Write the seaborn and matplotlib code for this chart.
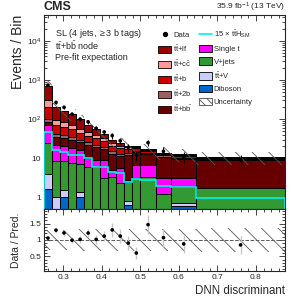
import numpy as np
import pandas as pd
import matplotlib
matplotlib.use('Agg')
import matplotlib.pyplot as plt
import matplotlib.patches as mpatches
from matplotlib.lines import Line2D
from matplotlib.ticker import LogLocator, FuncFormatter, MultipleLocator, NullFormatter, FixedLocator
import seaborn as sns

sns.set_style('ticks')
plt.rcParams['font.family'] = ['Liberation Sans', 'DejaVu Sans']
plt.rcParams['mathtext.fontset'] = 'custom'
plt.rcParams['mathtext.rm'] = 'Liberation Sans'
plt.rcParams['mathtext.it'] = 'Liberation Sans:italic'
plt.rcParams['mathtext.bf'] = 'Liberation Sans:bold'
plt.rcParams['hatch.linewidth'] = 0.6

# ── data ─────────────────────────────────────────────────────────────────────
bin_edges = [0.25, 0.2708, 0.2917, 0.3125, 0.3333, 0.3542, 0.375, 0.3958,
             0.4167, 0.4375, 0.4583, 0.4792, 0.5, 0.54, 0.58, 0.645, 0.875]

ttlf    = [390, 110, 83, 63, 41, 24, 17, 10, 5, 4.5, 2, 1.0, 0.7, 0.4, 0.6, 0.3]
ttcc    = [105, 25, 20, 16, 12, 9, 8, 5, 3, 2.5, 2, 1.2, 0.8, 0.6, 0.6, 0.3]
ttb     = [105, 28, 23, 21, 15, 11, 10, 7.5, 6, 5, 3.5, 2.5, 1.5, 1.2, 1.1, 0.6]
tt2b    = [16, 7, 6, 5, 4, 4, 3, 2.5, 2, 1.5, 1.6, 1.0, 1.0, 0.8, 0.7, 0.5]
ttbb    = [14, 13.5, 12, 12.2, 10, 12, 10.1, 8.1, 8.0, 6.0, 9.1, 7.7, 6.4, 7.9, 6.4, 7.15]
singlet = [45, 13, 12.5, 10.3, 9.0, 4.0, 3.0, 5.8, 1.7, 3.2, 0.3, 3.5, 3.2, 1.9, 1.3, 0.05]
vjets   = [21, 7.5, 7.0, 7.1, 5.6, 5.6, 5.5, 2.8, 3.0, 2.1, 1.7, 2.9, 3.2, 1.0, 1.1, 1.5]
ttv     = [2.4, 0.7, 0.55, 0.2, 0.4, 0.2, 0.2, 0.2, 0.2, 0.1, 0.15, 0.1, 0.1, 0.1, 0.1, 0.1]
diboson = [1.6, 0.3, 1.0, 0.2, 1.0, 0.2, 0.2, 0.1, 0.1, 0.1, 0.65, 0.1, 0.1, 0.1, 0.6, 0.1]

data_counts = [742, 267, 201, 134, 100, 85, 58, 47, 38, 28, 19, 12, 25, 15, 11, 9]
tth_x15 = [46, 16, 14.5, 11.9, 11.9, 10, 5.9, 5.8, 4.5, 4.2, 2.5, 3.0, 2.7, 1.9, 1.8, 0.94]
unc_rel = [0.32, 0.32, 0.32, 0.32, 0.33, 0.33, 0.33, 0.33, 0.34, 0.34,
           0.34, 0.34, 0.35, 0.35, 0.35, 0.36]

# ── styles ───────────────────────────────────────────────────────────────────
proc_names = ['ttlf', 'ttcc', 'ttb', 'tt2b', 'ttbb', 'singlet', 'vjets', 'ttv', 'diboson']
proc_vals = [ttlf, ttcc, ttb, tt2b, ttbb, singlet, vjets, ttv, diboson]
colors = {
    'ttlf': '#990000', 'ttcc': '#ff9999', 'ttb': '#cc0000', 'tt2b': '#9a6161',
    'ttbb': '#660000', 'singlet': '#ff00ff', 'vjets': '#339933',
    'ttv': '#ccccff', 'diboson': '#0066cc',
}
labels = {
    'ttlf': r'$\mathrm{t\bar{t}}$+lf', 'ttcc': r'$\mathrm{t\bar{t}}$+$\mathrm{c\bar{c}}$',
    'ttb': r'$\mathrm{t\bar{t}}$+b', 'tt2b': r'$\mathrm{t\bar{t}}$+2b',
    'ttbb': r'$\mathrm{t\bar{t}}$+$\mathrm{b\bar{b}}$', 'singlet': 'Single t',
    'vjets': 'V+jets', 'ttv': r'$\mathrm{t\bar{t}}$+V', 'diboson': 'Diboson',
}
TTH_COLOR = '#00f0f0'

edges = np.array(bin_edges)
centers = 0.5 * (edges[:-1] + edges[1:])
rows = []
for name, vals in zip(proc_names, proc_vals):
    for c, v in zip(centers, vals):
        rows.append({'x': c, 'w': v, 'proc': name})
df = pd.DataFrame(rows)

total = np.sum(np.array(proc_vals), axis=0)
data = np.array(data_counts, dtype=float)
ratio = data / total
unc = np.array(unc_rel)

# ── figure ───────────────────────────────────────────────────────────────────
fig = plt.figure(figsize=(2.91, 3.0), dpi=100)
ax = fig.add_axes([0.151, 0.303, 0.828, 0.647])
axr = fig.add_axes([0.151, 0.097, 0.828, 0.206], sharex=ax)

sns.histplot(data=df, x='x', weights='w', hue='proc', hue_order=proc_names,
             bins=list(bin_edges), multiple='stack', palette=colors, alpha=1,
             edgecolor='black', linewidth=0.7, legend=False, ax=ax)
ax.set_yscale('log')

# 15 x ttH line
ax.stairs(tth_x15, edges, color=TTH_COLOR, lw=1.2, zorder=4)

# uncertainty band
ax.fill_between(edges, np.append(total * (1 - unc), total[-1] * (1 - unc[-1])),
                np.append(total * (1 + unc), total[-1] * (1 + unc[-1])),
                step='post', facecolor='none', edgecolor='0.35', hatch=r'\\',
                linewidth=0, zorder=5)

# data
ax.errorbar(centers, data, yerr=np.sqrt(data), fmt='none', ecolor='black',
            elinewidth=0.8, zorder=6)
sns.scatterplot(x=centers, y=data, color='black', s=7, edgecolor='none',
                zorder=7, ax=ax)

ax.set_xlim(0.25, 0.875)
ax.set_ylim(0.5, 4.6e4)
ax.set_xlabel('')
ax.set_ylabel('Events / Bin', fontsize=10, loc='top', labelpad=1)
ax.yaxis.set_major_locator(LogLocator(base=10, numticks=10))
ax.yaxis.set_minor_locator(LogLocator(base=10, subs=np.arange(2, 10), numticks=20))
ax.yaxis.set_minor_formatter(NullFormatter())
ax.yaxis.set_major_formatter(FuncFormatter(
    lambda v, p: '1' if abs(v - 1) < 1e-6 else ('10' if abs(v - 10) < 1e-6
                 else r'$10^{%d}$' % round(np.log10(v)))))
ax.tick_params(labelbottom=False)

# ratio panel
axr.fill_between(edges, np.append(1 - unc, 1 - unc[-1]), np.append(1 + unc, 1 + unc[-1]),
                 step='post', facecolor='none', edgecolor='0.35', hatch=r'\\',
                 linewidth=0, zorder=2)
axr.axhline(1, color='0.35', ls='--', lw=0.7, zorder=3)
axr.vlines(centers, ratio - np.sqrt(data) / total, ratio + np.sqrt(data) / total,
           color='0.78', lw=1.0, zorder=3)
sns.scatterplot(x=centers, y=ratio, color='black', s=7, edgecolor='none',
                zorder=4, ax=axr)
axr.set_ylim(0.05, 1.95)
axr.yaxis.set_major_locator(FixedLocator([0.5, 1.0, 1.5]))
axr.yaxis.set_major_formatter(FuncFormatter(lambda v, p: '%g' % v))
axr.yaxis.set_minor_locator(MultipleLocator(0.1))
axr.xaxis.set_major_locator(MultipleLocator(0.1))
axr.xaxis.set_minor_locator(MultipleLocator(0.02))
axr.set_ylabel('Data / Pred.', fontsize=7.5, labelpad=6)
axr.set_xlabel('DNN discriminant', fontsize=8.3, loc='right', labelpad=3)

for a in (ax, axr):
    a.tick_params(which='both', direction='in', top=True, right=True,
                  labelsize=6, width=0.6, pad=2)
    a.tick_params(which='major', length=4)
    a.tick_params(which='minor', length=2)
    for s in a.spines.values():
        s.set_linewidth(0.8)

# texts
fig.text(0.151, 0.955, 'CMS', fontsize=9, weight='bold', va='bottom', ha='left')
fig.text(0.979, 0.955, r'35.9 fb$^{-1}$ (13 TeV)', fontsize=6, va='bottom', ha='right')
fig.text(0.19, 0.89, r'SL (4 jets, $\geq$3 b tags)', fontsize=6.5, va='center')
fig.text(0.19, 0.847, r'$\mathrm{t\bar{t}}$+$\mathrm{b\bar{b}}$ node', fontsize=6.5, va='center')
fig.text(0.19, 0.808, 'Pre-fit expectation', fontsize=6.5, va='center')

# legend
h_data = Line2D([], [], marker='o', color='black', ls='none', markersize=2.8)
h_tth = Line2D([], [], color=TTH_COLOR, lw=1.2)
h_unc = mpatches.Patch(facecolor='white', edgecolor='0.3', hatch=r'\\\\', lw=0.6)
col1 = [h_data] + [mpatches.Patch(facecolor=colors[p], edgecolor='black', lw=0.6)
                   for p in proc_names[:5]]
col2 = [h_tth] + [mpatches.Patch(facecolor=colors[p], edgecolor='black', lw=0.6)
                  for p in proc_names[5:]] + [h_unc]
lab1 = ['Data'] + [labels[p] for p in proc_names[:5]]
lab2 = [r'15 $\times$ $\mathrm{t\bar{t}H_{SM}}$'] + [labels[p] for p in proc_names[5:]] + ['Uncertainty']
fig.legend(col1 + col2, lab1 + lab2, ncol=2, loc='upper left',
           bbox_to_anchor=(0.543, 0.905), frameon=False, fontsize=5.5,
           handlelength=1.7, handleheight=1.05, labelspacing=0.6,
           columnspacing=0.9, handletextpad=0.25, borderpad=0, borderaxespad=0)

fig.savefig('out.png', dpi=100)
